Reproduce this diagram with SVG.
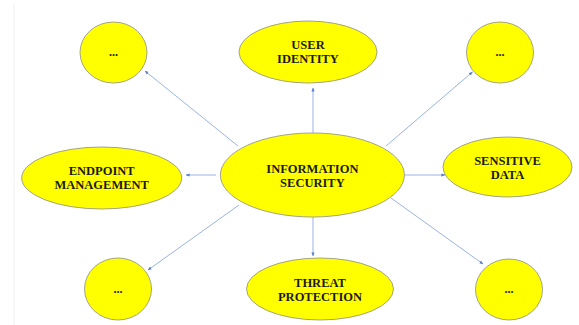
<svg xmlns="http://www.w3.org/2000/svg" width="579" height="325" viewBox="0 0 579 325">
<style>
.n{fill:#ffff00;stroke:#8c8c8c;stroke-width:0.8}
.t{font-family:"Liberation Serif","Times New Roman",serif;font-weight:bold;font-size:12.5px;fill:#1a1a1a;text-anchor:middle}
.d{font-family:"Liberation Serif","Times New Roman",serif;font-weight:bold;font-size:12px;fill:#1a1a1a;text-anchor:middle}
.c{stroke:#8faadc;stroke-width:0.9;fill:none;marker-end:url(#ah)}
</style>
<defs>
<marker id="ah" viewBox="0 0 10 10" refX="9" refY="5" markerWidth="4" markerHeight="4" orient="auto-start-reverse" markerUnits="userSpaceOnUse">
<path d="M0,1 L10,5 L0,9 z" fill="#5b7fc7"/>
</marker>
</defs>
<rect width="579" height="325" fill="#ffffff"/>
<line x1="14" y1="4" x2="14" y2="325" stroke="#f0f0f0" stroke-width="1"/>
<g id="connectors">
<line class="c" x1="238" y1="146" x2="145" y2="71"/>
<line class="c" x1="313" y1="133" x2="313" y2="88"/>
<line class="c" x1="386" y1="146" x2="472.5" y2="72"/>
<line class="c" x1="216" y1="175" x2="186" y2="175"/>
<line class="c" x1="405" y1="175" x2="445" y2="175"/>
<line class="c" x1="239" y1="205" x2="148" y2="270"/>
<line class="c" x1="313" y1="217" x2="313" y2="256"/>
<line class="c" x1="391" y1="198" x2="483" y2="264"/>
</g>
<g id="n-top-left"><ellipse class="n" cx="113.5" cy="52.5" rx="33.5" ry="30.5"/><text class="d" x="113.5" y="56">...</text></g>
<g id="n-user-identity"><ellipse class="n" cx="308" cy="52" rx="69" ry="31"/><text class="t" x="308" y="49">USER</text><text class="t" x="308" y="63">IDENTITY</text></g>
<g id="n-top-right"><ellipse class="n" cx="500" cy="52.5" rx="33.5" ry="30.5"/><text class="d" x="500" y="56">...</text></g>
<g id="n-endpoint"><ellipse class="n" cx="101.7" cy="178" rx="80" ry="31"/><text class="t" x="101.7" y="175">ENDPOINT</text><text class="t" x="101.7" y="189">MANAGEMENT</text></g>
<g id="n-info-security"><ellipse class="n" cx="312.4" cy="175" rx="92" ry="42"/><text class="t" x="312.4" y="173">INFORMATION</text><text class="t" x="312.4" y="187">SECURITY</text></g>
<g id="n-sensitive"><ellipse class="n" cx="507.5" cy="167" rx="64.5" ry="30"/><text class="t" x="507.5" y="165">SENSITIVE</text><text class="t" x="507.5" y="179">DATA</text></g>
<g id="n-bottom-left"><ellipse class="n" cx="118" cy="289" rx="33.5" ry="31"/><text class="d" x="118" y="293">...</text></g>
<g id="n-threat"><ellipse class="n" cx="320" cy="289" rx="73.5" ry="31"/><text class="t" x="320" y="287">THREAT</text><text class="t" x="320" y="301">PROTECTION</text></g>
<g id="n-bottom-right"><ellipse class="n" cx="509" cy="289.5" rx="33.5" ry="30.5"/><text class="d" x="509" y="293">...</text></g>
</svg>
